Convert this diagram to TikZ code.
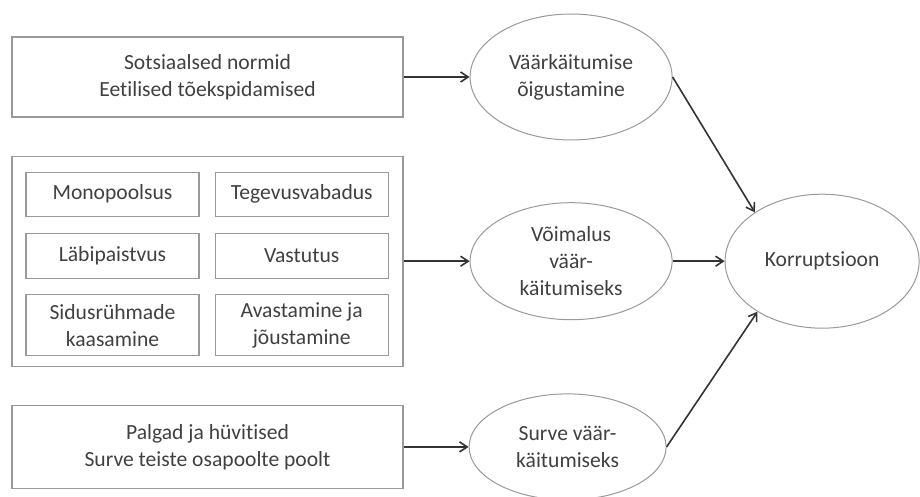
\documentclass[tikz,border=0pt]{standalone}
\usepackage{fontspec}
\setmainfont{Carlito}[Ligatures=NoCommon]
\usetikzlibrary{shapes.geometric, arrows.meta, positioning}

\begin{document}
\begin{tikzpicture}[
  x=0.5pt, y=-0.5pt,
  every node/.style={font=\fontsize{10.8}{13.5}\selectfont, text=black!75},
  factor/.style={rectangle, draw=black!40, line width=0.6pt, align=center,
    minimum width=195.5pt, inner sep=0pt},
  cluster/.style={rectangle, draw=black!40, line width=0.6pt,
    minimum width=195.5pt, minimum height=105pt, inner sep=0pt},
  subfactor/.style={rectangle, draw=black!40, line width=0.6pt, align=center,
    minimum width=86.5pt, minimum height=22pt, inner sep=0pt},
  oval/.style={ellipse, draw=black!40, line width=0.5pt, align=center, inner sep=0pt},
  arrow/.style={-{Straight Barb[length=3.8pt, width=5pt]}, line width=0.8pt, black!80}
]
\useasboundingbox (0,0) rectangle (920,497);

% left column
\node[factor, minimum height=40pt] (norms) at (207.5,77)
{Sotsiaalsed normid\\Eetilised tõekspidamised};

\node[cluster, below=19pt of norms] (chances) {};

\node[subfactor, anchor=north west, below right=8pt and 7pt of chances.north west] (monopoly) {Monopoolsus};
\node[subfactor, right=7.5pt of monopoly] (freedom) {Tegevusvabadus};
\node[subfactor, minimum height=22.5pt, below=8pt of monopoly] (transparency) {Läbipaistvus};
\node[subfactor, minimum height=22.5pt, below=8pt of freedom] (accountability) {Vastutus};
\node[subfactor, minimum height=30.5pt, below=7.5pt of transparency] (stakeholders) {Sidusrühmade\\kaasamine};
\node[subfactor, minimum height=30.5pt, below=7.5pt of accountability] (enforcement) {Avastamine ja\\jõustamine};

\node[factor, minimum height=41.5pt, below=19pt of chances] (wages)
{Palgad ja hüvitised\\Surve teiste osapoolte poolt};

% middle column
\node[oval, minimum width=101pt, minimum height=63pt, right=33pt of norms] (justify)
{Väärkäitumise\\õigustamine};
\node[oval, minimum width=101pt, minimum height=58.5pt, right=33pt of chances] (chance)
{Võimalus\\väär-\\käitumiseks};
\node[oval, minimum width=98.5pt, minimum height=53pt, right=32.5pt of wages] (pressure)
{Surve väär-\\käitumiseks};

% right column
\node[oval, minimum width=97pt, minimum height=67pt, right=26pt of chance] (corruption)
{Korruptsioon};

% Arrows
\draw[arrow] (norms) -- (justify);
\draw[arrow] (chances) -- (chance);
\draw[arrow] (wages) -- (pressure);
\draw[arrow] (justify.east) -- (corruption.144);
\draw[arrow] (chance) -- (corruption);
\draw[arrow] (pressure.east) -- (corruption.218);

\end{tikzpicture}
\end{document}
